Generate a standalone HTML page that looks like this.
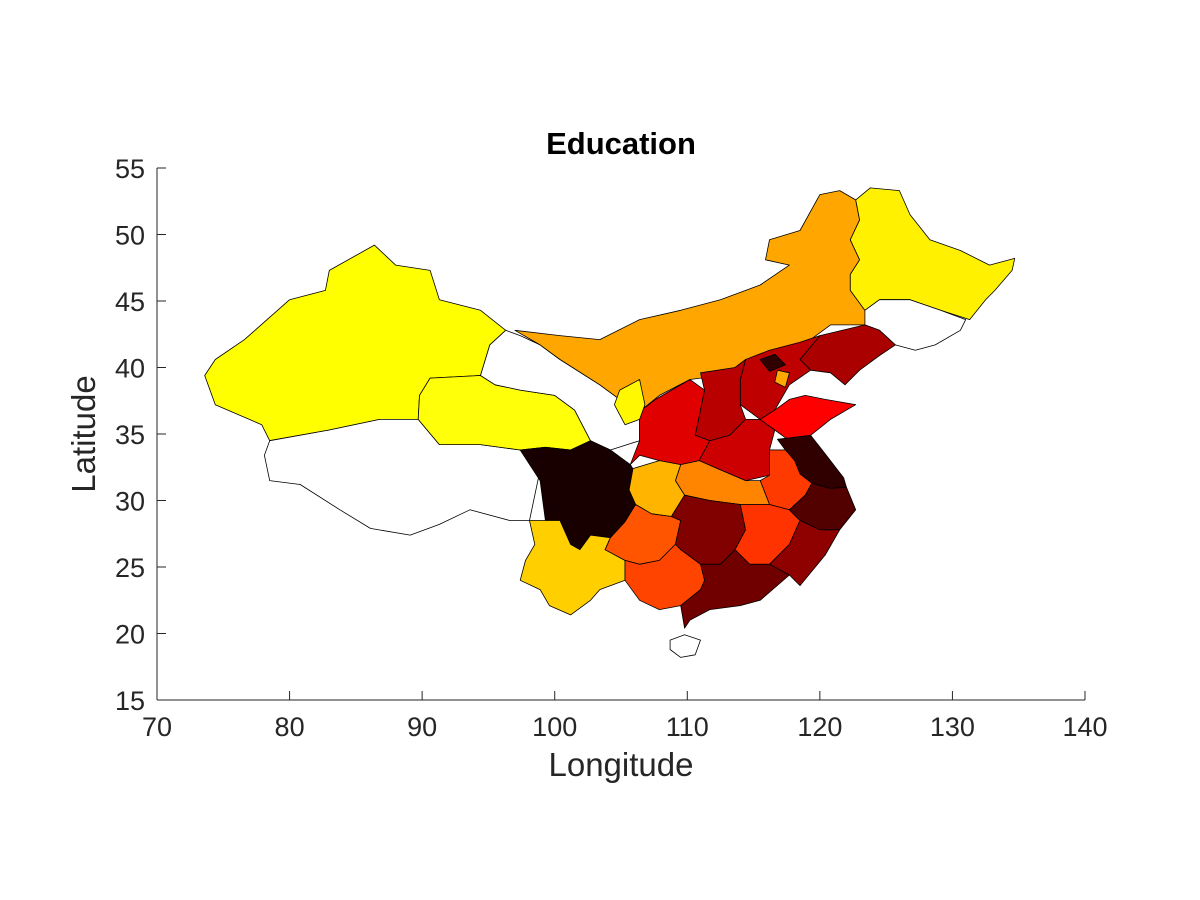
<!DOCTYPE html>
<html><head><meta charset="utf-8">
<style>
html,body{margin:0;padding:0;background:#fff;}
svg{display:block;font-family:"Liberation Sans",sans-serif;}
</style></head>
<body>
<svg id="chart" width="1200" height="900" viewBox="0 0 1200 900" xmlns="http://www.w3.org/2000/svg">
<rect width="1200" height="900" fill="#fff"/>
<g id="regions"></g>
<g id="axes"></g>
<text x="621" y="154" text-anchor="middle" font-size="31" font-weight="bold" fill="#000">Education</text>
<text x="621" y="776" text-anchor="middle" font-size="33" fill="#262626">Longitude</text>
<text transform="translate(95,434) rotate(-90)" text-anchor="middle" font-size="33" fill="#262626">Latitude</text>
</svg>
<script>
const xTicks = [70, 80, 90, 100, 110, 120, 130, 140];
const yTicks = [15, 20, 25, 30, 35, 40, 45, 50, 55];
const provinceNames = ["xinjiang","tibet","qinghai","gansu","inner-mongolia","heilongjiang","jilin","liaoning","hebei","beijing","tianjin","shanxi","shaanxi","ningxia","henan","shandong","jiangsu","anhui","hubei","chongqing","sichuan","yunnan","guizhou","hunan","jiangxi","zhejiang","fujian","guangdong","guangxi","hainan"];
const provinceValues = [0.75,null,0.76,null,0.62,0.73,null,0.25,0.28,0.07,0.62,0.27,0.33,0.74,0.30,0.375,0.07,0.46,0.57,0.64,0.035,0.68,0.50,0.19,0.45,0.12,0.21,0.165,0.475,null];
const provinceShapes = [
[[73.6,39.4],[74.4,40.6],[76.6,42.1],[80.0,45.1],[82.7,45.8],[83.0,47.3],[86.4,49.2],[88.0,47.7],[90.6,47.3],[91.3,45.1],[94.4,44.3],[96.3,42.8],[95.1,41.7],[94.4,39.4],[90.6,39.2],[89.8,37.9],[89.7,36.1],[86.8,36.1],[83.0,35.3],[78.5,34.5],[77.9,35.7],[74.4,37.2]],
[[78.5,34.5],[83.0,35.3],[86.8,36.1],[89.7,36.1],[91.3,34.2],[94.4,34.2],[97.4,33.8],[98.9,32.3],[98.1,28.5],[96.6,28.5],[93.6,29.3],[91.3,28.2],[89.1,27.4],[86.1,27.9],[83.8,29.3],[80.8,31.2],[78.5,31.5],[78.1,33.4]],
[[90.6,39.2],[94.4,39.4],[95.5,38.7],[97.4,38.3],[100.0,37.9],[101.5,36.8],[102.7,34.5],[101.2,33.8],[99.3,34.0],[97.4,33.8],[94.4,34.2],[91.3,34.2],[89.7,36.1],[89.8,37.9]],
[[95.1,41.7],[96.3,42.8],[97.4,42.4],[98.9,41.7],[100.4,40.6],[103.4,38.7],[104.9,37.6],[106.4,36.7],[106.4,34.5],[104.2,33.8],[102.7,34.5],[101.5,36.8],[100.0,37.9],[97.4,38.3],[95.5,38.7],[94.4,39.4]],
[[97.0,42.8],[100.4,42.4],[103.4,42.1],[106.4,43.6],[109.5,44.3],[112.5,45.1],[115.5,46.2],[117.7,47.7],[115.9,48.1],[116.2,49.6],[118.5,50.3],[120.0,53.0],[121.5,53.3],[122.7,52.6],[123.0,51.1],[122.3,49.6],[123.0,48.1],[122.3,47.0],[122.3,45.8],[123.4,44.3],[123.4,43.2],[120.8,43.2],[119.3,42.1],[117.0,40.9],[115.5,40.2],[114.0,39.8],[112.5,39.4],[110.2,39.1],[107.9,37.9],[106.4,36.7],[104.9,37.6],[103.4,38.7],[100.4,40.6],[98.9,41.7]],
[[122.7,52.6],[123.8,53.5],[126.0,53.3],[126.8,51.5],[128.3,49.6],[130.6,48.8],[132.8,47.7],[134.7,48.2],[134.5,47.3],[133.2,45.8],[132.5,45.1],[131.3,43.6],[129.1,44.3],[126.8,45.1],[124.5,45.1],[123.4,44.3],[122.3,45.8],[122.3,47.0],[123.0,48.1],[122.3,49.6],[123.0,51.1]],
[[123.4,44.3],[124.5,45.1],[126.8,45.1],[129.1,44.3],[131.0,43.6],[130.6,42.8],[128.7,41.7],[127.2,41.3],[125.7,41.7],[124.5,42.8],[123.4,43.2]],
[[120.0,42.4],[123.4,43.2],[124.5,42.8],[125.7,41.7],[124.5,40.9],[123.0,39.8],[121.9,38.7],[120.8,39.6],[119.3,39.8],[118.5,40.6]],
[[116.2,41.3],[118.5,41.9],[120.0,42.4],[118.5,40.6],[119.3,39.8],[117.7,38.7],[116.6,36.8],[115.5,36.1],[114.0,37.2],[114.0,39.1],[114.4,40.6]],
[[115.5,40.6],[116.6,41.0],[117.4,40.2],[116.2,39.7]],
[[116.8,39.8],[117.7,39.6],[117.4,38.5],[116.6,38.9]],
[[111.0,39.6],[113.6,40.0],[114.4,40.6],[114.0,39.1],[114.0,37.2],[114.4,36.1],[113.2,34.9],[111.7,34.5],[110.6,34.9],[111.0,36.8],[111.3,38.3]],
[[107.6,37.6],[110.2,39.1],[111.3,38.3],[111.0,36.8],[110.6,34.9],[111.7,34.5],[110.9,33.0],[109.5,32.7],[107.9,33.0],[106.4,33.4],[105.7,32.7],[106.4,34.5],[106.4,36.7]],
[[104.9,38.3],[106.4,39.1],[106.8,37.2],[106.4,36.1],[105.3,35.7],[104.5,37.2]],
[[111.7,34.5],[113.2,34.9],[114.4,36.1],[115.5,36.1],[116.6,35.3],[116.2,33.8],[117.4,33.8],[118.1,33.0],[116.2,31.9],[114.4,31.5],[112.5,32.3],[110.9,33.0]],
[[115.5,36.1],[116.6,36.8],[117.7,37.6],[118.9,37.9],[120.4,37.6],[122.7,37.2],[120.8,36.1],[119.3,34.9],[117.7,34.5],[116.6,35.3]],
[[116.8,34.6],[119.3,34.9],[120.4,33.5],[121.8,31.7],[122.0,31.0],[120.8,30.9],[119.4,31.3],[118.5,32.0],[118.1,33.0],[117.4,33.8]],
[[116.2,33.8],[117.4,33.8],[118.1,33.0],[118.5,32.0],[119.4,31.3],[118.9,30.4],[117.7,29.3],[116.2,29.7],[115.5,31.5],[116.2,31.9]],
[[109.5,32.7],[110.9,33.0],[112.5,32.3],[114.4,31.5],[115.5,31.5],[116.2,29.7],[114.0,29.7],[111.7,30.0],[109.8,30.4],[109.1,31.5]],
[[105.9,32.4],[107.9,33.0],[109.5,32.7],[109.1,31.5],[109.8,30.4],[108.8,28.8],[107.3,29.0],[106.1,29.7],[105.6,30.8]],
[[97.4,33.8],[99.3,34.0],[101.2,33.8],[102.7,34.5],[104.2,33.8],[105.7,32.7],[105.9,32.4],[105.6,30.8],[106.1,29.7],[105.3,28.4],[104.2,27.2],[102.7,27.4],[101.9,26.3],[101.2,26.7],[100.4,28.5],[99.3,28.5],[98.9,31.5]],
[[98.1,28.5],[99.3,28.5],[100.4,28.5],[101.2,26.7],[101.9,26.3],[102.7,27.4],[104.2,27.2],[103.8,26.3],[105.3,25.5],[105.3,24.0],[103.4,23.3],[102.7,22.5],[101.2,21.4],[99.6,22.1],[98.9,23.3],[97.4,24.0],[97.8,25.5],[98.5,26.7]],
[[104.2,27.2],[105.3,28.4],[106.1,29.7],[107.3,29.0],[108.8,28.8],[109.5,28.5],[109.1,26.7],[107.9,25.5],[106.4,25.2],[105.3,25.5],[103.8,26.3]],
[[109.5,28.5],[108.8,28.8],[109.8,30.4],[111.7,30.0],[114.0,29.7],[114.4,27.8],[113.6,26.3],[112.5,25.2],[111.0,25.2],[109.5,26.3],[109.1,26.7]],
[[114.0,29.7],[116.2,29.7],[117.7,29.3],[118.5,28.5],[117.7,26.7],[116.2,25.2],[114.7,25.2],[113.6,26.3],[114.4,27.8]],
[[118.9,30.4],[119.4,31.3],[120.8,30.9],[122.0,31.0],[122.7,29.3],[121.5,27.8],[120.0,27.8],[118.5,28.5],[117.7,29.3]],
[[118.5,28.5],[120.0,27.8],[121.5,27.8],[120.4,25.9],[118.5,23.6],[117.7,24.4],[116.2,25.2],[117.7,26.7]],
[[111.0,25.2],[112.5,25.2],[113.6,26.3],[114.7,25.2],[116.2,25.2],[117.7,24.4],[115.5,22.5],[114.0,22.1],[111.7,21.8],[110.2,21.0],[109.8,20.4],[109.5,22.1],[111.0,23.3],[111.3,24.0]],
[[105.3,25.5],[106.4,25.2],[107.9,25.5],[109.1,26.7],[109.5,26.3],[111.0,25.2],[111.3,24.0],[111.0,23.3],[109.5,22.1],[107.9,21.8],[106.4,22.5],[105.3,24.0]],
[[108.7,19.5],[109.8,19.9],[111.0,19.5],[110.6,18.4],[109.5,18.2],[108.7,18.8]]
];
const X0=157, X1=1085, Y0=700, Y1=168;
function xs(v){return X0+(v-70)/70*(X1-X0);}
function ys(v){return Y0-(v-15)/40*(Y0-Y1);}
function hot(v){
  if(v===null) return "#ffffff";
  const c=t=>Math.round(255*Math.max(0,Math.min(1,t)));
  return "rgb("+c(v/0.375)+","+c((v-0.375)/0.375)+","+c((v-0.75)/0.25)+")";
}
const NS="http://www.w3.org/2000/svg";
const rg=document.getElementById("regions");
provinceShapes.forEach((shape,i)=>{
  const p=document.createElementNS(NS,"polygon");
  p.setAttribute("points",shape.map(q=>xs(q[0]).toFixed(1)+","+ys(q[1]).toFixed(1)).join(" "));
  p.setAttribute("fill",hot(provinceValues[i]));
  p.setAttribute("stroke","#000");
  p.setAttribute("stroke-width","0.8");
  p.setAttribute("stroke-linejoin","round");
  
  
  rg.appendChild(p);
});
const ax=document.getElementById("axes");
function line(x1,y1,x2,y2){
  const l=document.createElementNS(NS,"line");
  l.setAttribute("x1",x1);l.setAttribute("y1",y1);l.setAttribute("x2",x2);l.setAttribute("y2",y2);
  l.setAttribute("stroke","#262626");l.setAttribute("stroke-width","1");
  return l;
}
let a=line(X0,Y0,X1,Y0);


ax.appendChild(a);
a=line(X0,Y0,X0,Y1);


ax.appendChild(a);
xTicks.forEach(t=>{
  const tk=line(xs(t),Y0,xs(t),Y0-9);
  
  
  ax.appendChild(tk);
  const tx=document.createElementNS(NS,"text");
  tx.setAttribute("x",xs(t));tx.setAttribute("y",Y0+36);
  tx.setAttribute("text-anchor","middle");tx.setAttribute("font-size","27");tx.setAttribute("fill","#262626");
  tx.textContent=t;
  
  
  ax.appendChild(tx);
});
yTicks.forEach(t=>{
  const tk=line(X0,ys(t),X0+9,ys(t));
  
  
  ax.appendChild(tk);
  const tx=document.createElementNS(NS,"text");
  tx.setAttribute("x",X0-12);tx.setAttribute("y",ys(t)+10);
  tx.setAttribute("text-anchor","end");tx.setAttribute("font-size","27");tx.setAttribute("fill","#262626");
  tx.textContent=t;
  
  
  ax.appendChild(tx);
});
</script>
</body></html>
